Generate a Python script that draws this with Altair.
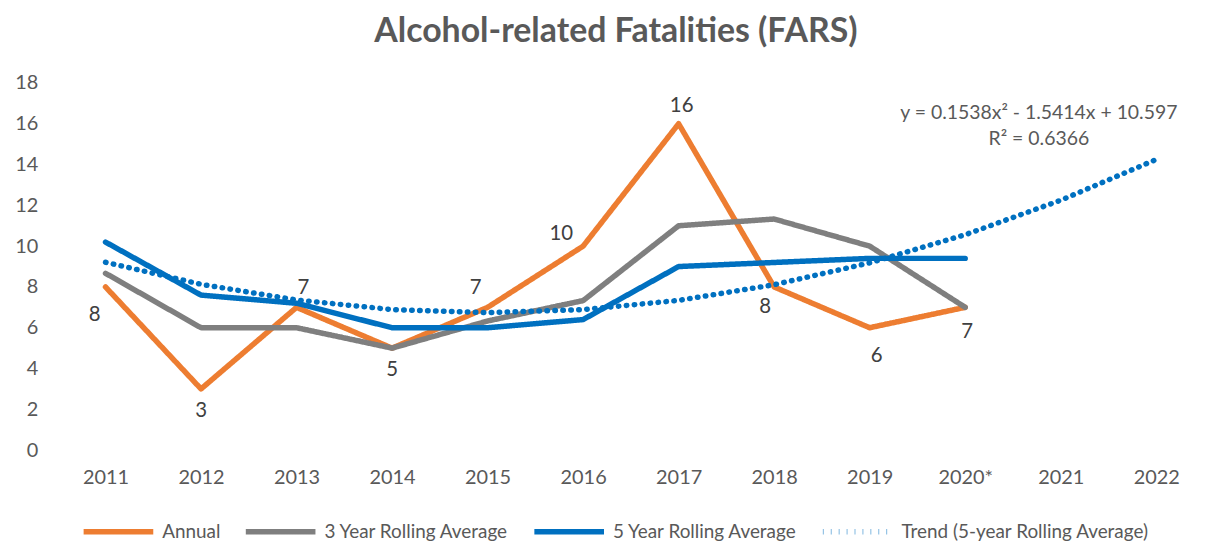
import altair as alt
import pandas as pd

years = ["2011", "2012", "2013", "2014", "2015", "2016", "2017", "2018", "2019", "2020*", "2021", "2022"]
annual = [8, 3, 7, 5, 7, 10, 16, 8, 6, 7, None, None]
rolling3 = [8.67, 6, 6, 5, 6.33, 7.33, 11, 11.33, 10, 7, None, None]
rolling5 = [10.2, 7.6, 7.2, 6, 6, 6.4, 9, 9.2, 9.4, 9.4, None, None]
trend = [9.21, 8.13, 7.36, 6.89, 6.74, 6.89, 7.34, 8.11, 9.18, 10.56, 12.25, 14.25]

series_names = ["Annual", "3 Year Rolling Average", "5 Year Rolling Average", "Trend (5-year Rolling Average)"]
series_values = [annual, rolling3, rolling5, trend]
series_colors = ["#ED7D31", "#7F7F7F", "#0070C0", "#0070C0"]

equation_lines = ["y = 0.1538x² - 1.5414x + 10.597", "R² = 0.6366"]
equation_y = [16.55, 15.25]

rows = []
for name, vals in zip(series_names, series_values):
    for i, (yr, v) in enumerate(zip(years, vals)):
        if v is not None:
            rows.append({"year": yr, "value": v, "series": name, "order": i})
df = pd.DataFrame(rows)

ann = pd.DataFrame({"year": years[:10], "value": annual[:10], "label": [str(v) for v in annual[:10]]})

# label placement (dx, dy) in pixels, as in the reference
label_offsets = {
    "2011": (-11, 28), "2012": (0, 22), "2013": (7, -19), "2014": (0, 22), "2015": (-12, -19),
    "2016": (-22, -12), "2017": (3, -18), "2018": (-9, 20), "2019": (7, 28), "2020*": (2, 25),
}

eq = pd.DataFrame({"year": ["2021", "2021"], "value": equation_y, "text": equation_lines})

FONT = "Lato"
TXT = "#595959"

x_enc = alt.X("year:N", sort=years, scale=alt.Scale(domain=years, type="point", padding=0.5),
              axis=alt.Axis(title=None, labelAngle=0, domain=False, ticks=False, grid=False,
                            labelFontSize=20, labelColor=TXT, labelFont=FONT, labelPadding=18))
y_enc = alt.Y("value:Q", scale=alt.Scale(domain=[0, 18], nice=False),
              axis=alt.Axis(title=None, values=list(range(0, 19, 2)), domain=False, ticks=False,
                            gridColor="#D9D9D9", gridWidth=1.5, labelFontSize=20, labelColor=TXT,
                            labelFont=FONT, labelPadding=20))

legend = alt.Legend(title=None, orient="none", direction="horizontal", legendX=23, legendY=413,
                    symbolType="stroke", symbolSize=4900, labelFontSize=19, labelColor=TXT,
                    labelFont=FONT, labelOffset=6, columnPadding=14, labelLimit=0)

lines = alt.Chart(df).mark_line(strokeCap="round", strokeJoin="round", interpolate="linear").encode(
    x=x_enc,
    y=y_enc,
    order="order:Q",
    color=alt.Color("series:N", sort=series_names,
                    scale=alt.Scale(domain=series_names, range=series_colors), legend=legend),
    strokeDash=alt.StrokeDash("series:N", sort=series_names,
                              scale=alt.Scale(domain=series_names, range=[[1, 0], [1, 0], [1, 0], [0.5, 7.5]]),
                              legend=legend),
    strokeWidth=alt.StrokeWidth("series:N", sort=series_names,
                                scale=alt.Scale(domain=series_names, range=[5.5, 5.5, 5.5, 3.5]),
                                legend=legend),
)

box = alt.Chart(pd.DataFrame({"a": [0]})).mark_rect(color="white").encode(
    x=alt.value(834), x2=alt.value(1152),
    y=alt.datum(17.2), y2=alt.datum(14.6)
)

eq_text = alt.Chart(eq).mark_text(fontSize=19.5, font=FONT, color=TXT, dx=-22).encode(
    x=alt.X("year:N", sort=years), y="value:Q", text="text:N"
)

label_layers = []
for yr, (ddx, ddy) in label_offsets.items():
    label_layers.append(
        alt.Chart(ann[ann["year"] == yr]).mark_text(fontSize=20.5, font=FONT, color="#404040", dx=ddx, dy=ddy)
        .encode(x=alt.X("year:N", sort=years), y="value:Q", text="label:N")
    )

chart = alt.layer(box, lines, eq_text, *label_layers).properties(
    width=1152, height=369,
    title=alt.Title("Alcohol-related Fatalities (FARS)", fontSize=34, font=FONT, fontWeight="bold",
                    color=TXT, anchor="middle", dx=-15, offset=24),
    autosize=alt.AutoSizeParams(type="none"),
    padding={"left": 50, "top": 74, "right": 0, "bottom": 93},
).configure_view(stroke=None)

chart.save("out.html", embed_options={"renderer": "svg", "actions": False})
